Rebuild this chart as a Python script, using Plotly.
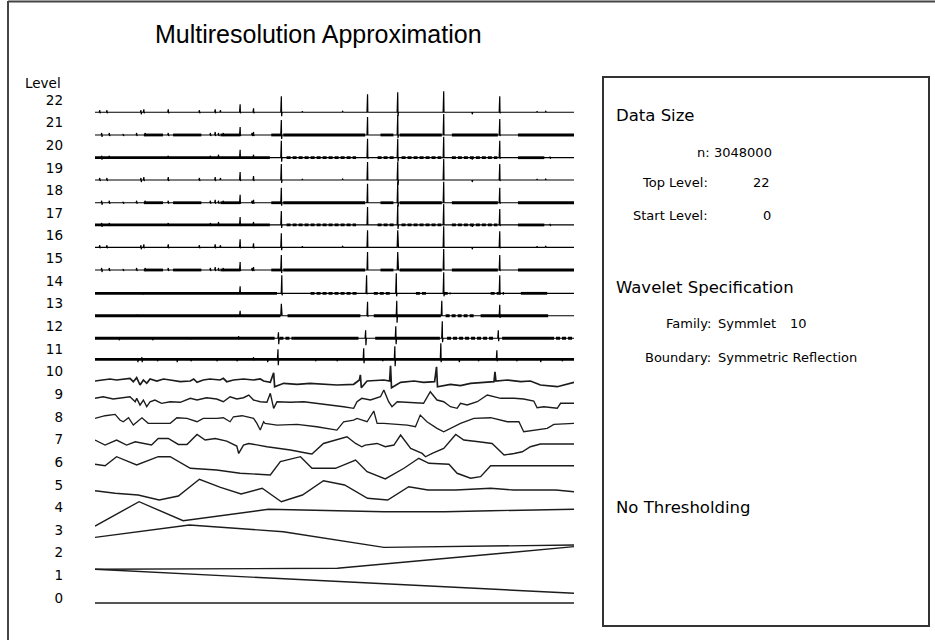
import plotly.graph_objects as go

W, H = 935, 640
PX_PER_LEVEL = 22.32  # vertical pixels between neighbouring level baselines

LEVELS = list(range(23))
LEVEL_TICKS = [str(k) for k in LEVELS]

# ---- smooth low levels: position (percent of series) and deviation ----
LEVEL0_T = [0, 100]
LEVEL0_V = [0, 0]
LEVEL1_T = [0, 52.1, 84.1, 100]
LEVEL1_V = [11.4, -1.0, -9.3, -12.6]
LEVEL2_T = [0, 50.6, 100]
LEVEL2_V = [-10.9, -9.9, 11.7]
LEVEL3_T = [0, 19.7, 39.3, 60.3, 100]
LEVEL3_V = [-1.3, 11.0, 4.3, -11.3, -9.0]
LEVEL4_T = [0, 9.2, 18.4, 36.2, 60.3, 73, 82.6, 100]
LEVEL4_V = [-12.3, 12.0, -7.0, 4.4, 2.0, 2.0, 3.0, 4.4]
LEVEL5_T = [0, 4.2, 9, 13.4, 17.4, 21.8, 26.2, 30.5, 34.9, 38.9, 43.3, 47.7, 52.1,
            56.9, 61.1, 65.5, 69.5, 75.3, 82.6, 87.4, 96.2, 100]
LEVEL5_V = [0.7, -1.9, -3.6, -8.6, -4.6, 12.1, 4.1, -2.6, 3.1, -10.3, -3.6, 10.7, 6.4,
            -6.9, -8.6, 4.7, 1.4, 1.4, 3.1, 1.4, 1.4, -0.3]
LEVEL6_T = [0, 2.1, 4.5, 8.7, 13.2, 15.7, 19.9, 25.4, 30.3, 36.6, 38.7, 42.9, 45.3,
            50.2, 54.4, 56.8, 60.6, 64.5, 67.6, 69.7, 73.9, 75.6, 78.4, 80.5, 82.6, 100]
LEVEL6_V = [4.8, 3.4, 12.4, 4.1, 12.4, 12.4, 0.8, -0.9, -4.2, -5.9, 7.4, 12.4, 0.8,
            0.8, 9.1, -2.6, -9.9, 0.8, 10.8, 5.8, 4.8, -4.2, -9.2, -7.6, 3.4, 3.4]
LEVEL7_T = [0, 2.1, 4.5, 6.6, 8.4, 11.8, 13.2, 15.3, 17.4, 19.2, 21.3, 23, 25.1, 27.5,
            29.6, 30, 31, 32.1, 35.9, 40.8, 44.6, 45.3, 47.7, 50.2, 52.6, 54.4, 55.7,
            56.4, 58.9, 60.6, 62.4, 63.8, 65.9, 68.3, 69, 70.4, 72.8, 75.3, 77, 80.1,
            82.9, 84.7, 85.4, 87.5, 89.2, 90.9, 93, 100]
LEVEL7_V = [6.7, 1.7, 6.7, 1.7, 5, 1.7, 8.3, 8.3, 2.3, 2.3, 12.3, 6.7, 8.3, 5.7,
            0.7, -6.7, 1.7, 3.3, 0, -3.3, -6.7, -7.3, 3.3, 6.7, 10, 3.3, 0,
            1.7, 3.3, 0, 1.7, 11.7, -1.7, -6.7, -10, -6.7, -1.7, 12.3, 6.7, 5,
            3.3, -5, -8.3, -6.7, -5, 0, 2.7, 2.7]
LEVEL8_T = [0, 2.1, 4.2, 5.2, 5.9, 7, 8, 9.8, 11.1, 15.7, 17.1, 19.2, 21.3, 22.6, 25.4,
            26.8, 28.2, 28.9, 30.7, 33.1, 33.8, 34.5, 35.2, 35.5, 38, 42.2, 46.3, 50.5,
            51.9, 54, 54.7, 56.8, 58.2, 58.9, 60.3, 63.1, 65.2, 66.9, 67.9, 69.3, 71.4,
            72.8, 74.2, 76.3, 79.1, 82.6, 86.1, 88.5, 89.5, 91.6, 94.4, 95.8, 100]
LEVEL8_V = [6.1, 8.7, 10.1, 4.4, 2.7, 6.7, -0.6, 6.7, 1.1, 1.1, 6.7, 6.1, 2.7, 6.1, 6.1,
            6.7, 2.7, 7.7, 8.7, 6.1, 1.1, -5.6, 2.7, 1.1, -0.6, 0.1, -2.3, -5.6,
            2.7, 4.4, 6.1, 2.7, 13.4, 1.1, 1.1, 0.1, -0.6, -2.3, 9.4, 2.7, -3.9,
            -7.3, -3.9, 1.1, 6.1, 6.7, 2.7, 2.7, -7.3, -5.6, -3.9, 0.1, 1.1]
LEVEL9_T = [0, 1.7, 3.8, 5.9, 7.3, 8.4, 8.7, 9.4, 10.1, 10.8, 11.5, 12.5, 13.9, 15.7,
            17.8, 19.9, 21.3, 23.3, 25.4, 26.8, 28.2, 29.6, 31, 32.1, 33.1, 34.5, 35.9,
            36.6, 37.3, 38, 40.8, 43.6, 46.3, 49.1, 51.9, 54, 54.7, 55.7, 57.5, 59.6,
            60.3, 61.3, 62, 63.1, 65.9, 68.6, 70, 71.4, 72.8, 74.2, 75.6, 76.3, 77.7,
            79.8, 81.9, 84.7, 87.5, 89.5, 91.6, 92.3, 93.7, 95.1, 96.5, 97.2, 97.9, 100]
LEVEL9_V = [3.8, 5.4, 3.1, 4.4, 5.4, 0.4, 3.8, -2.9, 2.1, -4.6, 0.4, 2.1, -1.2, 0.4,
            -0.2, 3.8, 2.1, 4.4, 3.1, 0.4, 5.4, 3.1, 4.4, 7.1, 2.1, 0.4, -0.2,
            8.8, -6.2, 0.4, -0.2, 0.4, -1.2, -2.2, -4.6, -6.2, 0.4, 3.8, 2.1, 5.4,
            12.1, 0.4, -4.6, 0.4, -0.2, -1.2, 10.4, 2.1, 0.4, -4.6, -6.2, -1.2, -2.9,
            0.4, 7.1, 3.8, 3.8, 3.1, 1.1, -5.6, -4.6, -5.6, -6.2, -1.2, -1.2, -1.2]
LEVEL10_T = [0, 1.7, 3.1, 4.5, 5.9, 7.3, 8.0, 8.7, 9.4, 10.1, 10.8, 11.5, 12.9, 14.3,
             15.7, 17.8, 19.9, 20.6, 21.3, 22.6, 24.0, 26.1, 26.8, 27.5, 28.9, 31.0,
             33.1, 34.5, 35.2, 36.6, 37.3, 37.5, 39.4, 42.2, 44.9, 47.7, 50.5, 54.0,
             55.2, 55.4, 55.6, 56.8, 60.3, 61.5, 61.7, 61.9, 63.8, 66.6, 68.6, 70.9,
             71.3, 71.5, 74.2, 76.3, 78.4, 81.2, 83.3, 83.5, 83.7, 86.1, 88.9, 90.9,
             93.0, 96.5, 98.6, 100]
LEVEL10_V = [-1.2, -0.2, 0.8, -0.2, 0.8, 1.5, -1.9, 2.1, -5.2, -0.2, -3.5, 0.8, -1.2, 0.8,
             -0.2, -1.9, -1.2, 0.8, -2.5, -0.2, 0.8, -0.2, 1.5, -1.9, -0.2, 0.8,
             -0.2, 0.8, -1.2, -2.5, 7, -7, -3.5, -4.5, -3.5, -4.5, -5.2, -4.5,
             -0.2, 5, -8, -1.2, -0.2, -1.2, 14, -8, -2.5, -1.2, -2.5, -1.9,
             13, -7, -4.5, -5.9, -3.5, -2.5, -1.9, 8, -1.2, -0.2, -1.9, -1.2,
             -5.2, -6.9, -4.5, -2.5]

# ---- spiky high levels: (position, up, down) ----
TICKS_SPARSE = [(1.0, 2, -1), (2.5, 2, -1), (9.6, 2, -2), (10.2, 3, -1), (15.3, 3, -1),
                (21.8, 2, -1), (25.1, 3, -1), (26.2, 2, 0), (30.3, 8, -1), (33.1, 4, -1),
                (43.3, 1, 0), (51.7, 1, 0), (78.7, 0, -2), (92.3, 1, 0), (94.1, 1, 0)]
TICKS_MEDIUM = [(1.4, 2, -2), (3.0, 2, -1), (5.9, 1, -1), (8.7, 2, -1), (10.5, 2, -1),
                (15.3, 2, -1), (24.1, 2, -1), (25.1, 3, -1), (25.8, 2, -1), (26.8, 2, -1),
                (30.3, 8, -1), (32.8, 2, -1), (33.1, 3, -1)]
TICKS_DENSE = [(1.4, 2, -2), (3.0, 2, -1), (15.3, 2, -1), (24.1, 2, -1), (25.8, 3, -1),
               (30.3, 8, -1), (33.1, 3, -1), (78.7, 0, -2), (95.0, 1, -1)]
BUSY_MEDIUM = [(10.2, 14.2), (16.3, 22.2), (26.2, 30.3), (36.8, 38.9), (39.3, 56.4),
               (59.6, 62.3), (63.6, 72.4), (74.5, 84.1), (88.3, 100)]
BUSY_DENSE = [(0, 36.5), (88.3, 93.8)]
DASH_DENSE = [(40, 54.5), (59, 62.5), (64, 72.3), (74.5, 84)]

MAJOR22 = [(38.9, 16, -4), (56.9, 18, 0), (63.2, 20, -4), (72.8, 21, 0), (84.5, 16, -1)]
MAJOR21 = [(38.9, 15, -4), (56.9, 18, 0), (63.2, 20, -3), (72.8, 21, 0), (84.5, 16, -1)]
MAJOR20 = [(38.9, 17, -4), (56.9, 19, -1), (63.2, 19, -4), (72.8, 21, 0), (84.5, 17, -1)]
MAJOR19 = [(38.9, 16, -3), (56.9, 18, 0), (63.2, 18, -5), (72.8, 21, 0), (84.5, 16, -1)]
MAJOR18 = [(38.9, 15, -3), (56.9, 19, 0), (63.2, 21, -4), (72.8, 21, 0), (84.5, 15, -1)]
MAJOR17 = [(38.9, 14, -3), (56.9, 18, 0), (63.2, 20, -4), (72.8, 21, 0), (84.5, 16, -1)]
MAJOR16 = [(38.9, 14, -3), (56.9, 17, 0), (63.2, 17, 0), (72.8, 21, 0), (84.5, 16, -1)]
MAJOR15 = [(38.9, 15, -3), (56.9, 18, 0), (63.2, 18, 0), (72.8, 21, 0), (84.5, 15, -1)]
MAJOR14 = [(39.0, 18, -2), (56.7, 18, -1), (62.9, 20, -3), (72.8, 21, -3), (84.5, 18, -1)]
MAJOR13 = [(38.9, 12, 0), (56.9, 14, -1), (63.0, 15, -7), (72.4, 15, 0), (84.5, 11, -2)]
MAJOR12 = [(38.3, 6, -6), (56.5, 8, -7), (62.8, 12, -6), (72.5, 17, -4), (84.2, 8, -3)]
MAJOR11 = [(38.2, 10, -6), (56.1, 11, -4), (62.6, 13, -7), (72.2, 16, -3), (83.9, 9, -2),
           (8.9, 0, -3), (9.8, 2, -3), (13.0, 0, -2), (17.1, 1, -3), (20.0, 0, -2),
           (25.4, 1, -2), (29.6, 0, -2), (33.1, 2, -1), (36.0, 0, -3), (46.0, 0, -2),
           (50.5, 0, -2), (60.0, 1, -2), (76.0, 0, -3), (80.0, 0, -2), (88.0, 1, -2),
           (93.0, 0, -3), (97.5, 0, -2)]

LEVEL22_SPIKES = MAJOR22 + TICKS_SPARSE
LEVEL21_SPIKES = MAJOR21 + TICKS_MEDIUM
LEVEL20_SPIKES = MAJOR20 + TICKS_DENSE
LEVEL19_SPIKES = MAJOR19 + TICKS_SPARSE
LEVEL18_SPIKES = MAJOR18 + TICKS_MEDIUM
LEVEL17_SPIKES = MAJOR17 + TICKS_DENSE
LEVEL16_SPIKES = MAJOR16 + TICKS_SPARSE
LEVEL15_SPIKES = MAJOR15 + TICKS_MEDIUM
LEVEL14_SPIKES = MAJOR14 + [(30.3, 7, 0), (10.0, 1, -1)]
LEVEL13_SPIKES = MAJOR13 + [(30.3, 5, 0), (8.8, 1, -1)]
LEVEL12_SPIKES = MAJOR12 + [(5.0, 1, -2), (12.0, 0, -2), (20.0, 1, -1), (30.0, 2, -1)]
LEVEL11_SPIKES = MAJOR11

# offset of each flat level line from its nominal baseline
HIGH_BASE = {22: -0.3, 21: -0.7, 20: -1.1, 19: -1.1, 18: -1.5, 17: -1.4,
             16: -1.4, 15: -1.8, 14: -2.8, 13: -2.9, 12: -3.1, 11: -1.8}
HIGH_SPIKES = {22: LEVEL22_SPIKES, 21: LEVEL21_SPIKES, 20: LEVEL20_SPIKES,
               19: LEVEL19_SPIKES, 18: LEVEL18_SPIKES, 17: LEVEL17_SPIKES,
               16: LEVEL16_SPIKES, 15: LEVEL15_SPIKES, 14: LEVEL14_SPIKES,
               13: LEVEL13_SPIKES, 12: LEVEL12_SPIKES, 11: LEVEL11_SPIKES}
HIGH_BUSY = {22: [], 21: BUSY_MEDIUM, 20: BUSY_DENSE, 19: [], 18: BUSY_MEDIUM,
             17: BUSY_DENSE, 16: [], 15: BUSY_MEDIUM,
             14: [(0, 38), (88.9, 94.4)],
             13: [(0, 38.7), (40.2, 55.4), (58.2, 72.2), (80.5, 94.6)],
             12: [(0, 37.5), (41.5, 55), (58.5, 72), (85, 95)],
             11: [(0, 100)]}
HIGH_DASH = {22: [], 21: [], 20: DASH_DENSE, 19: [], 18: [], 17: DASH_DENSE, 16: [],
             15: [], 14: [(45, 54.7), (58.2, 61.7), (67, 69.2), (72.8, 74.2), (82.6, 85.4)],
             13: [(73.2, 79.1)], 12: [(38.5, 41.5), (73.5, 83.5), (95, 100)], 11: []}

LOW_T = [LEVEL0_T, LEVEL1_T, LEVEL2_T, LEVEL3_T, LEVEL4_T, LEVEL5_T, LEVEL6_T,
         LEVEL7_T, LEVEL8_T, LEVEL9_T, LEVEL10_T]
LOW_V = [LEVEL0_V, LEVEL1_V, LEVEL2_V, LEVEL3_V, LEVEL4_V, LEVEL5_V, LEVEL6_V,
         LEVEL7_V, LEVEL8_V, LEVEL9_V, LEVEL10_V]
LOW_WIDTH = [1.4, 1.4, 1.4, 1.4, 1.4, 1.4, 1.4, 1.4, 1.3, 1.4, 1.7]

fig = go.Figure()


def to_y(k, v):
    return k + v / PX_PER_LEVEL


for k, (ts, vs) in enumerate(zip(LOW_T, LOW_V)):
    assert len(ts) == len(vs)
    fig.add_trace(go.Scatter(x=ts, y=[to_y(k, v) for v in vs], mode="lines",
                             line=dict(color="#1c1c1c", width=LOW_WIDTH[k]),
                             hoverinfo="skip", showlegend=False))

for k in range(11, 23):
    base = HIGH_BASE[k]
    pts = [(0.0, 0.0), (100.0, 0.0)]
    for t, up, down in HIGH_SPIKES[k]:
        pts += [(t - 0.12, 0.0), (t, up), (t + 0.06, down), (t + 0.16, 0.0)]
    pts.sort(key=lambda p: p[0])
    fig.add_trace(go.Scatter(x=[p[0] for p in pts], y=[to_y(k, base + p[1]) for p in pts],
                             mode="lines", line=dict(color="#000", width=1.2),
                             hoverinfo="skip", showlegend=False))
    for segs, dash in ((HIGH_BUSY[k], "solid"), (HIGH_DASH[k], "4px,2px")):
        if not segs:
            continue
        xs, ys = [], []
        for a, b in segs:
            xs += [a, b, None]
            ys += [to_y(k, base), to_y(k, base), None]
        fig.add_trace(go.Scatter(x=xs, y=ys, mode="lines",
                                 line=dict(color="#000", width=2.8, dash=dash),
                                 hoverinfo="skip", showlegend=False))

# invisible trace carrying the level label axis
fig.add_trace(go.Scatter(x=[50], y=[0], yaxis="y2", mode="markers",
                         marker=dict(opacity=0), hoverinfo="skip", showlegend=False))

LBL_RANGE = [-42 / 22.64, 598 / 22.64]


def px(x):
    return x / W


def py(y):
    return 1 - y / H


fig.update_layout(
    width=W, height=H,
    margin=dict(l=0, r=0, t=0, b=0, pad=0),
    paper_bgcolor="white", plot_bgcolor="rgba(0,0,0,0)",
    showlegend=False,
    xaxis=dict(domain=[px(95), px(574)], range=[0, 100], visible=False, fixedrange=True),
    yaxis=dict(domain=[0, 1], range=[-37 / PX_PER_LEVEL, 603 / PX_PER_LEVEL],
               visible=False, fixedrange=True),
    yaxis2=dict(overlaying="y", anchor="free", position=px(63), side="left",
                range=LBL_RANGE, tickvals=LEVELS, ticktext=LEVEL_TICKS,
                showgrid=False, zeroline=False, showline=False, ticks="",
                tickfont=dict(family="DejaVu Sans", size=13.5, color="#000"),
                fixedrange=True),
)

TXT = "#000"
annots = [
    dict(text="Multiresolution Approximation", x=px(318), y=py(34), xanchor="center",
         yanchor="middle", font=dict(family="Liberation Sans, Arial", size=25, color=TXT)),
    dict(text="Level", x=px(23), y=py(83), xanchor="left", yanchor="middle",
         font=dict(family="DejaVu Sans", size=13.5, color=TXT)),
    dict(text="Data Size", x=px(614), y=py(115), xanchor="left", yanchor="middle",
         font=dict(family="DejaVu Sans", size=16.5, color=TXT)),
    dict(text="n:", x=px(712), y=py(152), xanchor="right", yanchor="middle",
         font=dict(family="DejaVu Sans", size=13, color=TXT)),
    dict(text="3048000", x=px(774), y=py(152), xanchor="right", yanchor="middle",
         font=dict(family="DejaVu Sans", size=13, color=TXT)),
    dict(text="Top Level:", x=px(710), y=py(183), xanchor="right", yanchor="middle",
         font=dict(family="DejaVu Sans", size=13, color=TXT)),
    dict(text="22", x=px(772), y=py(183), xanchor="right", yanchor="middle",
         font=dict(family="DejaVu Sans", size=13, color=TXT)),
    dict(text="Start Level:", x=px(710), y=py(215), xanchor="right", yanchor="middle",
         font=dict(family="DejaVu Sans", size=13, color=TXT)),
    dict(text="0", x=px(773), y=py(215), xanchor="right", yanchor="middle",
         font=dict(family="DejaVu Sans", size=13, color=TXT)),
    dict(text="Wavelet Specification", x=px(614), y=py(287), xanchor="left", yanchor="middle",
         font=dict(family="DejaVu Sans", size=16.5, color=TXT)),
    dict(text="Family:", x=px(713), y=py(323), xanchor="right", yanchor="middle",
         font=dict(family="DejaVu Sans", size=13, color=TXT)),
    dict(text="Symmlet", x=px(716), y=py(323), xanchor="left", yanchor="middle",
         font=dict(family="DejaVu Sans", size=13, color=TXT)),
    dict(text="10", x=px(788), y=py(323), xanchor="left", yanchor="middle",
         font=dict(family="DejaVu Sans", size=13, color=TXT)),
    dict(text="Boundary:", x=px(713), y=py(357), xanchor="right", yanchor="middle",
         font=dict(family="DejaVu Sans", size=13, color=TXT)),
    dict(text="Symmetric Reflection", x=px(716), y=py(357), xanchor="left", yanchor="middle",
         font=dict(family="DejaVu Sans", size=13, color=TXT)),
    dict(text="No Thresholding", x=px(614), y=py(507), xanchor="left", yanchor="middle",
         font=dict(family="DejaVu Sans", size=16.5, color=TXT)),
]
for a in annots:
    a.update(xref="paper", yref="paper", showarrow=False)
fig.update_layout(annotations=annots)

shapes = [
    dict(type="line", xref="paper", yref="paper", x0=px(8), x1=px(8), y0=py(1), y1=-0.02,
         line=dict(color="#444", width=2)),
    dict(type="line", xref="paper", yref="paper", x0=px(8), x1=1.02, y0=py(1.5), y1=py(1.5),
         line=dict(color="#444", width=2)),
    dict(type="rect", xref="paper", yref="paper", x0=px(603), x1=px(929), y0=py(626),
         y1=py(77), line=dict(color="#333", width=2), fillcolor="rgba(0,0,0,0)"),
]
fig.update_layout(shapes=shapes)

# remove the page's default body margin so the figure sits at the window's corner
fig.write_html("out.html", config={"displayModeBar": False},
               post_script="document.body.style.margin='0';document.body.style.overflow='hidden';")
